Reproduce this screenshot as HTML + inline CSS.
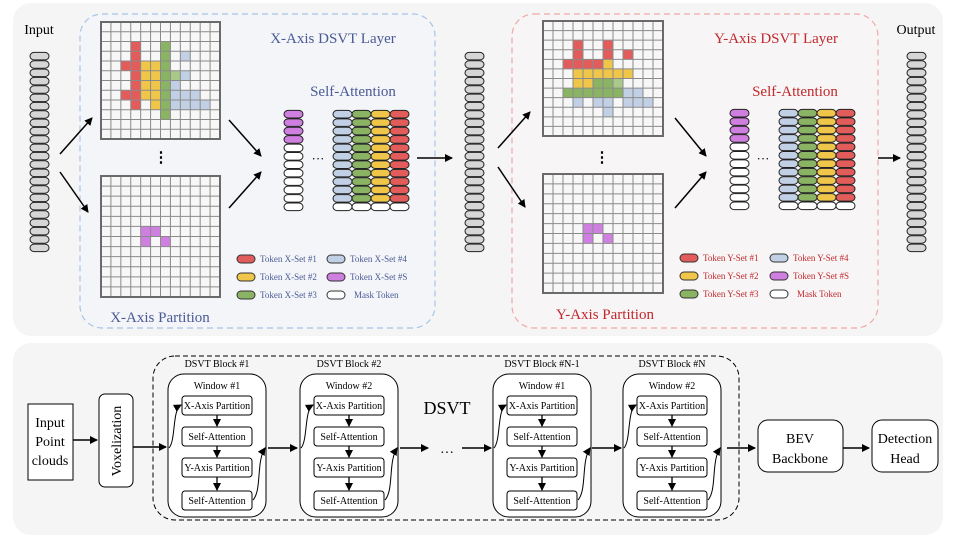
<!DOCTYPE html>
<html><head><meta charset="utf-8">
<style>
html,body{margin:0;padding:0;background:#fff;width:960px;height:540px;overflow:hidden}
svg{display:block;font-family:"Liberation Serif",serif}
</style></head>
<body>
<svg id="s" width="960" height="540" viewBox="0 0 960 540" xmlns="http://www.w3.org/2000/svg">
<defs>
<marker id="ah" markerWidth="8" markerHeight="8" refX="7" refY="4" orient="auto" markerUnits="userSpaceOnUse"><path d="M0,0 L8,4 L0,8 z" fill="#000"/></marker>
</defs>
<rect x="13" y="3" width="930" height="333" rx="18" fill="#f5f5f5"/>
<rect x="13" y="343" width="930" height="192" rx="18" fill="#f5f5f5"/>
<rect x="80" y="14" width="355" height="314" rx="22" fill="#f3f5f8" stroke="#a8c4e6" stroke-width="1.2" stroke-dasharray="6,4"/>
<rect x="512" y="14" width="366" height="314" rx="22" fill="#f7f5f5" stroke="#f0a8a8" stroke-width="1.2" stroke-dasharray="6,4"/>
<g id="dyn"></g>
<g font-size="15">
<text x="333" y="43" text-anchor="middle" fill="#4a5a95">X-Axis DSVT Layer</text>
<text x="353" y="96" text-anchor="middle" fill="#4a5a95">Self-Attention</text>
<text x="160" y="322" text-anchor="middle" fill="#4a5a95">X-Axis Partition</text>
<text x="776" y="43" text-anchor="middle" fill="#c0282d">Y-Axis DSVT Layer</text>
<text x="795" y="96" text-anchor="middle" fill="#c0282d">Self-Attention</text>
<text x="605" y="319" text-anchor="middle" fill="#c0282d">Y-Axis Partition</text>
<text x="39" y="34" text-anchor="middle" fill="#000" font-size="14">Input</text>
<text x="916" y="34" text-anchor="middle" fill="#000" font-size="14">Output</text>
</g>
<g font-size="15" font-weight="bold">
<text x="161" y="162" text-anchor="middle">⋮</text>
<text x="602" y="162" text-anchor="middle">⋮</text>
</g>
<text x="318" y="163" text-anchor="middle" font-size="13">···</text>
<text x="763" y="163" text-anchor="middle" font-size="13">···</text>
<g stroke="#000" stroke-width="1.5" marker-end="url(#ah)">
<line x1="60" y1="154" x2="92" y2="118"/><line x1="60" y1="172" x2="88" y2="212"/>
<line x1="229" y1="120" x2="261" y2="156"/><line x1="229" y1="208" x2="261" y2="172"/>
<line x1="417" y1="158" x2="452" y2="158"/>
<line x1="498" y1="148" x2="530" y2="112"/><line x1="498" y1="167" x2="525" y2="207"/>
<line x1="675" y1="118" x2="706" y2="156"/><line x1="675" y1="208" x2="706" y2="172"/>
<line x1="878" y1="158" x2="900" y2="158"/>
</g>
<!-- bottom -->
<g fill="#fff" stroke="#000" stroke-width="1">
<rect x="28" y="404" width="45" height="76"/>
<rect x="99" y="394" width="34" height="93" rx="6"/>
<rect x="758" y="420" width="85" height="52" rx="10"/>
<rect x="872" y="420" width="66" height="52" rx="10"/>
</g>
<rect x="153" y="356" width="586" height="164" rx="22" fill="none" stroke="#000" stroke-dasharray="5,3"/>
<g font-size="14" text-anchor="middle">
<text x="50" y="427">Input</text><text x="50" y="446">Point</text><text x="50" y="465">clouds</text>
<text transform="translate(121,441) rotate(-90)" x="0" y="0">Voxelization</text>
<text x="800" y="443">BEV</text><text x="800" y="463">Backbone</text>
<text x="905" y="443">Detection</text><text x="905" y="463">Head</text>
<text x="447" y="414" font-size="18">DSVT</text>
<text x="447" y="457" font-size="14">···</text>
</g>
<g stroke="#000" stroke-width="1.5" marker-end="url(#ah)">
<line x1="73" y1="440" x2="97" y2="440"/>
<line x1="133" y1="447" x2="166" y2="447"/>
<line x1="268" y1="448" x2="297" y2="448"/>
<line x1="400" y1="448" x2="428" y2="448"/>
<line x1="462" y1="448" x2="491" y2="448"/>
<line x1="592" y1="448" x2="621" y2="448"/>
<line x1="727" y1="448" x2="755" y2="448"/>
<line x1="843" y1="448" x2="869" y2="448"/>
</g>
</svg>
<script>
const NS="http://www.w3.org/2000/svg",g=document.getElementById('dyn');
function el(t,a,txt){const e=document.createElementNS(NS,t);for(const k in a)e.setAttribute(k,a[k]);if(txt)e.textContent=txt;g.appendChild(e);return e;}
const C={r:"#e25c5c",y:"#f0c64a",g:"#8ab364",G:"#a9c98a",b:"#c2d0e6",p:"#cf7fe0",w:"#fff",k:"#d6d6d6"};
function grid(x,y,w,h,cells){
  el('rect',{x,y,width:w,height:h,fill:'#f7f7f7'});
  const cw=w/12,ch=h/12;
  for(const [c,r,col] of cells) el('rect',{x:x+c*cw,y:y+r*ch,width:cw,height:ch,fill:C[col]});
  let d='';for(let i=1;i<12;i++){d+=`M${x+i*cw},${y}V${y+h}M${x},${y+i*ch}H${x+w}`;}
  el('path',{d,stroke:'#8a8a8a','stroke-width':1,fill:'none'});
  el('rect',{x,y,width:w,height:h,fill:'none',stroke:'#6a6a6a','stroke-width':2});
}
function col(x,y,w,h,n,colors){const th=h/n;for(let i=0;i<n;i++)el('rect',{x,y:y+i*th+0.4,width:w,height:th-0.8,rx:th/2,fill:C[colors(i)],stroke:'#222','stroke-width':1});}
// X top
let xc=[];
for(let r=2;r<=8;r++)xc.push([3,r,'r']);xc.push([2,4,'r'],[2,7,'r']);
for(let r=4;r<=7;r++)xc.push([4,r,'y']);for(let r=4;r<=8;r++)xc.push([5,r,'y']);
for(let r=2;r<=9;r++)xc.push([6,r,'g']);xc.push([7,5,'G']);
xc.push([8,3,'b'],[8,5,'b'],[7,6,'b'],[7,7,'b'],[7,8,'b'],[8,7,'b'],[8,8,'b'],[9,7,'b'],[9,8,'b'],[10,8,'b']);
grid(101,22,119,117,xc);
grid(101,176,119,121,[[4,5,'p'],[5,5,'p'],[4,6,'p'],[6,6,'p']]);
let yc=[[3,2,'r'],[3,3,'r'],[6,2,'r'],[6,3,'r'],[8,3,'r'],[2,4,'r'],[3,4,'r'],[4,4,'r'],[5,4,'r'],[6,4,'y']];
for(let c=3;c<=8;c++)yc.push([c,5,'y']);yc.push([3,6,'y'],[4,6,'y'],[5,6,'g'],[6,6,'g'],[7,6,'G']);
for(let c=2;c<=7;c++)yc.push([c,7,'g']);yc.push([8,7,'b'],[9,7,'b'],[3,8,'b'],[5,8,'b'],[6,8,'b'],[8,8,'b'],[9,8,'b'],[10,8,'b'],[6,9,'b']);
grid(543,21,120,115,yc);
grid(543,174,120,119,[[4,5,'p'],[5,5,'p'],[4,6,'p'],[6,6,'p']]);
// stacks
col(30,52,19,200,24,()=> 'k');col(465,52,19,200,24,()=> 'k');col(907,52,19,200,24,()=> 'k');
col(284,110,19,101,12,i=>i<4?'p':'w');
['b','g','y','r'].forEach((c,j)=>col(333+j*19,110,19,101,12,i=>i<11?c:'w'));
col(730,109,19,101,12,i=>i<4?'p':'w');
['b','g','y','r'].forEach((c,j)=>col(779+j*19,109,19,101,12,i=>i<11?c:'w'));
// legends
function legend(x1,x2,y0,L,colr){
  const rows=[[y0,'r',L+'-Set #1','b',L+'-Set #4'],[y0+18,'y',L+'-Set #2','p',L+'-Set #S'],[y0+36,'g',L+'-Set #3','w','Mask']];
  rows.forEach(([y,c1,t1,c2,t2])=>{
    el('rect',{x:x1,y:y-4,width:18,height:8,rx:4,fill:C[c1],stroke:'#333'});
    el('text',{x:x1+23,y:y+3,'font-size':9,fill:colr},'Token '+t1);
    el('rect',{x:x2,y:y-4,width:18,height:8,rx:4,fill:C[c2],stroke:'#333'});
    el('text',{x:x2+(t2=='Mask'?27:23),y:y+3,'font-size':9,fill:colr},t2=='Mask'?'Mask Token':'Token '+t2);
  });
}
legend(237,327,259,'X','#4a5a95');
legend(680,770,258,'Y','#c0282d');
// blocks
function block(x,title,win){
  el('text',{x:x+49,y:367,'font-size':10,'text-anchor':'middle'},title);
  el('rect',{x,y:374,width:98,height:143,rx:16,fill:'#fff',stroke:'#000'});
  el('text',{x:x+49,y:389,'font-size':10,'text-anchor':'middle'},win);
  const ys=[396,427,458,491],lab=['X-Axis Partition','Self-Attention','Y-Axis Partition','Self-Attention'];
  ys.forEach((y,i)=>{el('rect',{x:x+14,y,width:70,height:19,rx:3,fill:'#fff',stroke:'#000'});
    el('text',{x:x+49,y:y+13,'font-size':10,'text-anchor':'middle'},lab[i]);
    if(i<3)el('line',{x1:x+49,y1:y+19,x2:x+49,y2:ys[i+1]-1,stroke:'#000','stroke-width':1.3,'marker-end':'url(#ah)'});});
  el('path',{d:`M${x+1},448 C${x+8},440 ${x+4},410 ${x+13},405`,fill:'none',stroke:'#000','marker-end':'url(#ah)'});
  el('path',{d:`M${x+85},500 C${x+94},490 ${x+88},462 ${x+97},448`,fill:'none',stroke:'#000','marker-end':'url(#ah)'});
}
block(168,'DSVT Block #1','Window #1');block(300,'DSVT Block #2','Window #2');
block(493,'DSVT Block #N-1','Window #1');block(623,'DSVT Block #N','Window #2');
</script>
</body></html>
